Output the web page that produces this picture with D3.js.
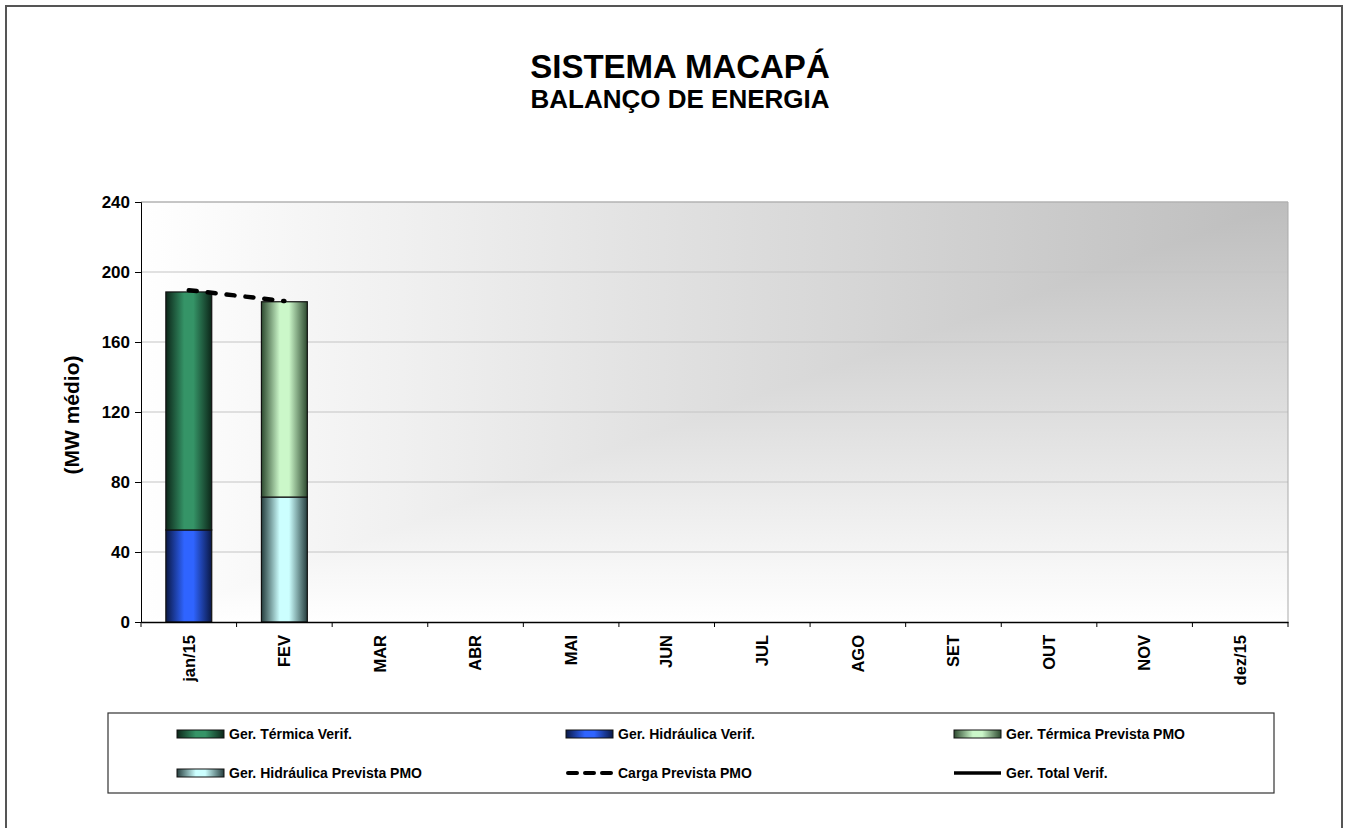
<!DOCTYPE html>
<html>
<head>
<meta charset="utf-8">
<script src="https://cdn.jsdelivr.net/npm/d3@7"></script>
<style>
  body { margin: 0; background: #fff; }
  text { font-family: "Liberation Sans", Arial, sans-serif; font-weight: bold; fill: #000; }
</style>
</head>
<body>
<div id="chart"></div>
<script>
// months on the x axis
let months = ["jan/15", "FEV", "MAR", "ABR", "MAI", "JUN", "JUL", "AGO", "SET", "OUT", "NOV", "dez/15"];

// MW médio (null = no data)
let hidraulicaVerif = [52.6, null];
let termicaVerif = [136.0, null];
let hidraulicaPrevista = [null, 71.4];
let termicaPrevista = [null, 111.6];
let cargaPrevista = [189.6, 183.4];

let yTicks = [0, 40, 80, 120, 160, 200, 240];

let W = 1348, H = 828;
let margin = { top: 202, left: 141 };
let width = 1288 - margin.left, height = 622 - margin.top;

let svg = d3.select("#chart").append("svg")
  .attr("width", W)
  .attr("height", H);

let defs = svg.append("defs");

// plot background, "from corner": grey top-right, white along left and bottom
let bgH = defs.append("linearGradient").attr("id", "bgH")
  .attr("x1", "0%").attr("y1", "0%").attr("x2", "100%").attr("y2", "0%");
bgH.append("stop").attr("offset", "0%").attr("stop-color", "#ffffff");
bgH.append("stop").attr("offset", "100%").attr("stop-color", "#bdbdbd");
let bgV = defs.append("linearGradient").attr("id", "bgV")
  .attr("x1", "0%").attr("y1", "100%").attr("x2", "0%").attr("y2", "0%");
bgV.append("stop").attr("offset", "0%").attr("stop-color", "#ffffff");
bgV.append("stop").attr("offset", "100%").attr("stop-color", "#bdbdbd");

// bar fills: dark edges, bright middle
function barGrad(id, edge, mid) {
  let g = defs.append("linearGradient").attr("id", id)
    .attr("x1", "0%").attr("y1", "0%").attr("x2", "100%").attr("y2", "0%");
  g.append("stop").attr("offset", "0%").attr("stop-color", edge);
  g.append("stop").attr("offset", "40%").attr("stop-color", mid);
  g.append("stop").attr("offset", "60%").attr("stop-color", mid);
  g.append("stop").attr("offset", "100%").attr("stop-color", edge);
}
barGrad("gTermV", "#0c2619", "#359467");
barGrad("gHidV", "#0a1845", "#2f64ff");
barGrad("gTermP", "#2e4a30", "#cbf7c9");
barGrad("gHidP", "#263e3e", "#ccffff");

// outer frame
svg.append("rect")
  .attr("x", 6).attr("y", 6).attr("width", 1336).attr("height", 840)
  .attr("fill", "none").attr("stroke", "#555").attr("stroke-width", 2);

// titles
svg.append("text").attr("x", 680).attr("y", 78).attr("text-anchor", "middle")
  .style("font-size", "33px").text("SISTEMA MACAPÁ");
svg.append("text").attr("x", 680).attr("y", 108).attr("text-anchor", "middle")
  .style("font-size", "26px").text("BALANÇO DE ENERGIA");

let g = svg.append("g").attr("transform", `translate(${margin.left},${margin.top})`);

let x = d3.scaleBand().domain(months).range([0, width]).paddingInner(0.52).paddingOuter(0.26);
let y = d3.scaleLinear().domain([0, 240]).range([height, 0]);

let bgG = g.append("g").style("isolation", "isolate");
bgG.append("rect").attr("width", width).attr("height", height).attr("fill", "url(#bgH)");
bgG.append("rect").attr("width", width).attr("height", height).attr("fill", "url(#bgV)")
  .style("mix-blend-mode", "lighten");

// gridlines
g.selectAll(".grid").data(yTicks.filter(d => d > 0)).join("line")
  .attr("x1", 0).attr("x2", width)
  .attr("y1", d => y(d)).attr("y2", d => y(d))
  .attr("stroke", "#c4c4c4").attr("stroke-width", 1);

// right and top border of plot
g.append("path")
  .attr("d", `M0,0H${width}V${height}`)
  .attr("fill", "none").attr("stroke", "#aaa");

// stacked bars
let stacks = [
  { lower: hidraulicaVerif, upper: termicaVerif, fl: "url(#gHidV)", fu: "url(#gTermV)" },
  { lower: hidraulicaPrevista, upper: termicaPrevista, fl: "url(#gHidP)", fu: "url(#gTermP)" }
];
stacks.forEach(s => {
  let rows = months.slice(0, s.lower.length).map((m, i) => ({ m, lo: s.lower[i], up: s.upper[i] }))
    .filter(d => d.lo != null);
  g.selectAll(null).data(rows).join("rect")
    .attr("x", d => x(d.m)).attr("width", x.bandwidth())
    .attr("y", d => y(d.lo)).attr("height", d => y(0) - y(d.lo))
    .attr("fill", s.fl).attr("stroke", "#111").attr("stroke-width", 1.2);
  g.selectAll(null).data(rows).join("rect")
    .attr("x", d => x(d.m)).attr("width", x.bandwidth())
    .attr("y", d => y(d.lo + d.up)).attr("height", d => y(d.lo) - y(d.lo + d.up))
    .attr("fill", s.fu).attr("stroke", "#111").attr("stroke-width", 1.2);
});

// carga prevista line
let line = d3.line()
  .x((d, i) => x(months[i]) + x.bandwidth() / 2)
  .y(d => y(d));
g.append("path").datum(cargaPrevista)
  .attr("d", line)
  .attr("fill", "none").attr("stroke", "#000").attr("stroke-width", 4.5)
  .attr("stroke-linecap", "round")
  .attr("stroke-dasharray", "8,11");

// axes
let yAxis = g.append("g")
  .call(d3.axisLeft(y).tickValues(yTicks).tickSize(6).tickPadding(5));
yAxis.selectAll("text").style("font-size", "17px").style("font-family", "Liberation Sans, Arial, sans-serif");
yAxis.select(".domain").attr("stroke", "#000");

let xAxis = g.append("g").attr("transform", `translate(0,${height})`)
  .call(d3.axisBottom(x).tickSize(0).tickPadding(0));
xAxis.select(".domain").attr("stroke", "#000").attr("stroke-width", 1.5);
xAxis.selectAll("text")
  .attr("transform", "rotate(-90)")
  .attr("x", -13).attr("y", 0).attr("dy", "0.35em")
  .style("text-anchor", "end").style("font-size", "16.5px")
  .style("font-family", "Liberation Sans, Arial, sans-serif");

// tick marks between categories
g.selectAll(".xt").data(d3.range(months.length + 1)).join("line")
  .attr("x1", i => i * width / months.length).attr("x2", i => i * width / months.length)
  .attr("y1", height).attr("y2", height + 5)
  .attr("stroke", "#000");

// y axis title
svg.append("text")
  .attr("transform", "translate(79,415) rotate(-90)")
  .attr("text-anchor", "middle")
  .style("font-size", "21px").text("(MW médio)");

// legend
let legendItems = [
  { name: "Ger. Térmica Verif.", type: "rect", fill: "url(#gTermV)" },
  { name: "Ger. Hidráulica Verif.", type: "rect", fill: "url(#gHidV)" },
  { name: "Ger. Térmica Prevista PMO", type: "rect", fill: "url(#gTermP)" },
  { name: "Ger. Hidráulica Prevista PMO", type: "rect", fill: "url(#gHidP)" },
  { name: "Carga Prevista PMO", type: "dash" },
  { name: "Ger. Total Verif.", type: "line" }
];
let legendX = [177, 566, 954], legendY = [734, 773];

svg.append("rect").attr("x", 108).attr("y", 713).attr("width", 1166).attr("height", 80)
  .attr("fill", "#fff").attr("stroke", "#333").attr("stroke-width", 1.2);

let li = svg.selectAll(".li").data(legendItems).join("g")
  .attr("transform", (d, i) => `translate(${legendX[i % 3]},${legendY[Math.floor(i / 3)]})`);
li.filter(d => d.type == "rect").append("rect")
  .attr("x", 0).attr("y", -4).attr("width", 47).attr("height", 8)
  .attr("fill", d => d.fill).attr("stroke", "#111").attr("stroke-width", 1);
li.filter(d => d.type == "dash").append("line")
  .attr("x1", 2).attr("x2", 45).attr("y1", 0).attr("y2", 0)
  .attr("stroke", "#000").attr("stroke-width", 4).attr("stroke-linecap", "round")
  .attr("stroke-dasharray", "9,8");
li.filter(d => d.type == "line").append("line")
  .attr("x1", 0).attr("x2", 47).attr("y1", 0).attr("y2", 0)
  .attr("stroke", "#000").attr("stroke-width", 3.5);
li.append("text").attr("x", 52).attr("y", 0).attr("dy", "0.35em")
  .style("font-size", "14px").text(d => d.name);
</script>
</body>
</html>
